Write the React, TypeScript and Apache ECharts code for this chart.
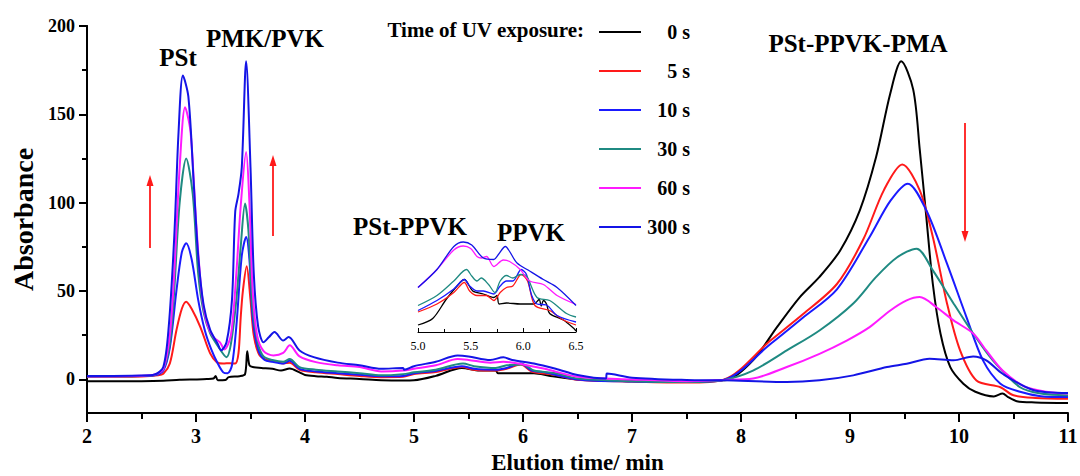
import React, { useEffect, useRef } from "react";
import * as echarts from "echarts";

const FONT = "'Liberation Serif', 'Times New Roman', serif";

const seriesNames = ["0 s", "5 s", "10 s", "30 s", "60 s", "300 s"];
const seriesColors = ["#000000", "#ff1a1a", "#1a1aff", "#1f8a82", "#ff1aff", "#1414e6"];

const yMajorTicks = [0, 50, 100, 150, 200];
const yMinorTicks = [25, 75, 125, 175];

const black0s = [[2.0,-1],[2.5,-1],[2.7,-0.8],[2.85,-0.2],[3.0,0],[3.1,0.2],[3.16,0.5],[3.18,2],[3.2,-0.5],[3.27,-0.3],[3.3,1.3],[3.4,1.8],[3.45,3],[3.47,16],[3.49,8],[3.52,7],[3.6,6.5],[3.7,6],[3.78,5],[3.86,6.2],[3.95,4],[4.0,2.5],[4.1,1.8],[4.2,1.5],[4.3,0.8],[4.5,0.3],[4.7,-0.4],[4.9,-0.6],[5.0,-0.5],[5.2,2],[5.44,6.5],[5.6,5],[5.75,5],[5.77,3.5],[6.1,3.5],[6.25,2],[6.5,0],[7.0,-1],[7.5,-1.5],[7.84,-0.5],[7.87,-0.4],[8.11,10.8],[8.33,29.6],[8.54,46.6],[8.72,58],[8.91,73],[9.09,95.7],[9.24,126],[9.37,162],[9.47,180],[9.58,164],[9.64,130],[9.7,92],[9.76,54],[9.83,26],[9.92,7],[10.04,-2.4],[10.15,-7],[10.32,-9.6],[10.4,-8],[10.45,-10],[10.53,-12.3],[10.7,-13],[11,-13.4]];

const red5s = [[2.0,1.5],[2.5,1.7],[2.65,2.3],[2.7,3.2],[2.76,9],[2.82,27.7],[2.87,40],[2.91,44],[2.96,40],[3.04,29.6],[3.13,14.7],[3.19,9.8],[3.25,9],[3.31,9.2],[3.36,9],[3.39,15],[3.41,35],[3.43,50],[3.465,64],[3.5,45],[3.53,25],[3.58,14],[3.65,11],[3.75,10],[3.8,9],[3.86,9.5],[3.95,5.5],[4.1,4],[4.3,3],[4.5,2],[4.7,1.3],[4.9,1.5],[5.0,3],[5.2,4.2],[5.44,7],[5.55,5.5],[5.75,5],[5.85,6],[5.98,8.5],[6.08,4.5],[6.3,2.5],[6.5,-0.2],[7.0,-1.2],[7.5,-1.8],[7.84,-0.2],[8.27,22],[8.57,37],[8.88,54],[9.12,79],[9.31,107],[9.48,121.6],[9.64,107],[9.76,80.6],[9.89,43],[10.01,16.4],[10.16,-0.6],[10.38,-4.4],[10.5,-9],[10.7,-10.5],[11,-11]];

const blue10s = [[2.0,1.7],[2.5,1.9],[2.62,2.3],[2.7,5],[2.76,18],[2.82,50],[2.87,72],[2.91,77],[2.96,68],[3.02,45],[3.08,28],[3.14,17],[3.2,9],[3.25,4],[3.29,3.5],[3.33,8],[3.37,30],[3.42,70],[3.46,80.6],[3.49,68],[3.52,35],[3.57,17],[3.63,11],[3.7,10],[3.8,9],[3.86,10.5],[3.95,6],[4.1,4.5],[4.3,3.5],[4.5,2.6],[4.7,1.8],[4.9,2],[5.0,3.5],[5.2,4.8],[5.44,7.5],[5.55,6],[5.75,5.5],[5.85,6.5],[5.98,9],[6.08,5],[6.2,4],[6.5,0],[7.0,-1.2],[7.5,-1.5],[7.84,-0.3],[8.27,20],[8.57,35],[8.88,51],[9.18,80.6],[9.37,101],[9.53,110.8],[9.7,95.7],[9.89,65.5],[10.07,35],[10.22,10.8],[10.38,-2.4],[10.56,-7],[10.75,-9.5],[11,-10]];

const teal30s = [[2.0,1.8],[2.5,2],[2.62,2.5],[2.7,6],[2.76,20],[2.8,50],[2.85,100],[2.91,125],[2.97,105],[3.02,60],[3.07,38],[3.13,26],[3.2,19],[3.28,12.6],[3.32,20],[3.37,45],[3.41,75],[3.45,99.5],[3.48,85],[3.52,40],[3.57,20],[3.62,13],[3.7,11],[3.8,10],[3.86,11.5],[3.95,7],[4.1,5.5],[4.3,4.5],[4.5,3.5],[4.7,2.3],[4.9,3],[5.0,4],[5.2,5.5],[5.45,9],[5.55,7.5],[5.75,6.5],[5.85,8],[6.0,8.5],[6.1,5],[6.3,3.5],[6.5,0.5],[7.0,-1],[7.5,-1.5],[7.84,-0.3],[8.11,5],[8.42,16.4],[8.72,27.7],[9.03,43],[9.24,58],[9.43,69],[9.61,74],[9.76,61.7],[9.95,43],[10.13,26],[10.31,10.8],[10.56,-4.4],[10.75,-8],[11,-9]];

const magenta60s = [[2.0,1.8],[2.5,2.1],[2.62,2.8],[2.7,6],[2.76,25],[2.8,60],[2.85,120],[2.9,154],[2.95,140],[3.0,90],[3.05,50],[3.1,32],[3.16,24],[3.22,21],[3.26,17],[3.32,25],[3.37,60],[3.41,98],[3.46,128.7],[3.49,100],[3.52,50],[3.56,25],[3.62,16],[3.71,13.6],[3.8,15],[3.86,19.3],[3.95,13],[4.1,9.8],[4.3,8],[4.5,7],[4.7,4.5],[4.9,5],[5.0,6],[5.2,8],[5.4,11.5],[5.5,11],[5.7,9.5],[5.82,10],[6.0,8.5],[6.2,6],[6.5,1.5],[7.0,0],[7.5,-1],[7.84,-0.3],[8.11,0.5],[8.42,7],[8.72,14.5],[8.97,22],[9.18,29.6],[9.37,39],[9.52,44.7],[9.64,46.6],[9.79,41],[9.95,33.4],[10.13,26],[10.25,16.4],[10.4,5],[10.6,-4],[10.8,-7],[11,-8]];

const blue300s = [[2.0,1.9],[2.5,2.2],[2.62,2.8],[2.7,7],[2.75,30],[2.8,80],[2.84,140],[2.88,172],[2.93,160],[2.98,110],[3.02,70],[3.07,42],[3.13,28],[3.2,20],[3.23,16.5],[3.28,21],[3.33,45],[3.36,95],[3.39,105],[3.42,120],[3.46,180],[3.5,120],[3.53,60],[3.57,30],[3.62,21],[3.67,24],[3.72,26.8],[3.8,22],[3.85,24],[3.95,16.4],[4.08,12.6],[4.3,9.5],[4.5,8],[4.7,6],[4.9,6.5],[4.91,5.5],[5.0,7.5],[5.2,10],[5.4,13.5],[5.5,13],[5.7,11],[5.82,12.5],[5.9,11],[6.1,9],[6.3,6],[6.5,2.5],[6.76,0.5],[6.77,3.3],[7.0,1],[7.5,-0.3],[7.84,-0.5],[8.42,-1.5],[8.72,-0.5],[9.03,2.3],[9.34,7],[9.52,8.9],[9.73,11.7],[9.95,10.8],[10.13,13],[10.25,10.8],[10.4,3.2],[10.68,-6],[11,-7.7]];

// inset (5.0 - 6.5 min, magnified)
const insetBlack = [[5.0,1.4],[5.14,2.7],[5.27,6.6],[5.4,9.9],[5.44,10.5],[5.52,8.2],[5.62,7.6],[5.72,6.9],[5.75,7.3],[5.77,5.6],[5.84,5.8],[5.97,5.6],[6.1,5.6],[6.15,6.5],[6.17,5.2],[6.19,6.3],[6.22,5.6],[6.25,3.7],[6.38,2.4],[6.48,0.7],[6.5,0.2]];
const insetRed = [[5.0,4.0],[5.18,5.6],[5.34,7.9],[5.44,9.9],[5.49,8.2],[5.56,7.3],[5.65,7.3],[5.72,6.3],[5.78,7.9],[5.84,8.9],[5.9,9.2],[5.98,11.5],[6.04,10.2],[6.11,5.3],[6.25,4.3],[6.38,2.4],[6.5,1.4]];
const insetBlue10 = [[5.0,4.3],[5.18,6.3],[5.34,8.6],[5.44,10.5],[5.49,9.2],[5.56,8.2],[5.62,8.2],[5.72,7.6],[5.78,9.2],[5.84,10.2],[5.9,10.2],[5.98,12.5],[6.03,11.5],[6.08,7.3],[6.13,5.6],[6.22,5.4],[6.32,3.3],[6.5,2.0]];
const insetTeal = [[5.0,5.3],[5.18,7.3],[5.34,10.2],[5.46,12.5],[5.51,11.2],[5.56,10.2],[5.6,10.8],[5.67,9.5],[5.73,7.9],[5.78,10.2],[5.84,11.3],[5.9,10.8],[5.97,11.5],[6.03,11.2],[6.13,6.9],[6.25,6.3],[6.41,3.7],[6.5,3.0]];
const insetMagenta = [[5.0,8.9],[5.18,12.5],[5.34,16.4],[5.43,17.2],[5.5,16.7],[5.56,15.1],[5.6,14.8],[5.65,15.1],[5.72,13.1],[5.81,14.4],[5.87,14.1],[5.97,12.5],[6.06,10.2],[6.19,9.5],[6.32,7.3],[6.5,5.5]];
const insetBlue300 = [[5.0,8.9],[5.18,12.5],[5.34,17.1],[5.43,18.0],[5.51,17.4],[5.62,14.8],[5.72,14.5],[5.76,15.4],[5.83,17.1],[5.87,16.1],[5.94,13.8],[6.06,12.2],[6.19,10.5],[6.32,8.9],[6.5,5.3]];

const mainData = [black0s, red5s, blue10s, teal30s, magenta60s, blue300s];
const insetData = [insetBlack, insetRed, insetBlue10, insetTeal, insetMagenta, insetBlue300];

const peakLabels = [
  { text: "PSt", x: 178, y: 57 },
  { text: "PMK/PVK", x: 265, y: 38 },
  { text: "PSt-PPVK", x: 410, y: 226 },
  { text: "PPVK", x: 531, y: 232 },
  { text: "PSt-PPVK-PMA", x: 858, y: 43 },
];

function arrow(x: number, y1: number, y2: number) {
  const dir = y2 < y1 ? -1 : 1;
  return {
    type: "group",
    children: [
      { type: "line", shape: { x1: x, y1, x2: x, y2: y2 - dir * 8 }, style: { stroke: "#ff1a1a", lineWidth: 1.8 } },
      { type: "polygon", shape: { points: [[x, y2], [x - 3.5, y2 - dir * 11], [x + 3.5, y2 - dir * 11]] }, style: { fill: "#ff1a1a" } },
    ],
  };
}

export default function App() {
  const ref = useRef<HTMLDivElement>(null);
  useEffect(() => {
    document.body.style.margin = "0";
    const chart = echarts.init(ref.current!, null, { renderer: "svg" });
    const mainSeries = mainData.map((d, i) => ({
      name: seriesNames[i],
      type: "line",
      xAxisIndex: 0,
      yAxisIndex: 0,
      data: d,
      symbol: "none",
      smooth: 0.3,
      lineStyle: { color: seriesColors[i], width: 2 },
      itemStyle: { color: seriesColors[i] },
      z: 3,
    }));
    const insetSeries = insetData.map((d, i) => ({
      name: seriesNames[i] + " inset",
      type: "line",
      xAxisIndex: 1,
      yAxisIndex: 2,
      data: d,
      symbol: "none",
      smooth: 0.3,
      lineStyle: { color: seriesColors[i], width: 1.3 },
      itemStyle: { color: seriesColors[i] },
    }));
    chart.setOption({
      animation: false,
      backgroundColor: "#ffffff",
      textStyle: { fontFamily: FONT },
      grid: [
        { left: 87, right: 12, top: 26, bottom: 63, outerBoundsMode: "none", containLabel: false },
        { left: 418, width: 158, top: 232, bottom: 144, outerBoundsMode: "none", containLabel: false },
      ],
      xAxis: [
        {
          type: "value", gridIndex: 0, min: 2, max: 11, interval: 1,
          axisLine: { onZero: false, lineStyle: { color: "#000", width: 2 } },
          axisTick: { length: 9, lineStyle: { width: 2, color: "#000" } },
          minorTick: { show: true, splitNumber: 2, length: 6, lineStyle: { width: 2, color: "#000" } },
          splitLine: { show: false },
          axisLabel: { color: "#000", fontSize: 20, fontWeight: "bold", fontFamily: FONT, margin: 13 },
          name: "Elution time/ min", nameLocation: "middle", nameGap: 36,
          nameTextStyle: { color: "#000", fontSize: 23, fontWeight: "bold", fontFamily: FONT },
        },
        {
          type: "value", gridIndex: 1, min: 5, max: 6.5, interval: 0.5,
          axisLine: { onZero: false, lineStyle: { color: "#000", width: 1 } },
          axisTick: { inside: true, length: 4, lineStyle: { width: 1, color: "#000" } },
          minorTick: { show: true, splitNumber: 2, length: 3, lineStyle: { width: 1, color: "#000" } },
          splitLine: { show: false },
          axisLabel: { color: "#000", fontSize: 12, fontFamily: FONT, margin: 8, formatter: (v: number) => v.toFixed(1) },
        },
      ],
      yAxis: [
        {
          type: "value", gridIndex: 0, position: "left", min: -19, max: 200,
          axisLine: { show: true, lineStyle: { color: "#000", width: 2 } },
          axisTick: { show: true, customValues: yMajorTicks, length: 8, lineStyle: { width: 2, color: "#000" } },
          axisLabel: { customValues: yMajorTicks, color: "#000", fontSize: 18, fontWeight: "bold", fontFamily: FONT, margin: 12 },
          splitLine: { show: false },
          name: "Absorbance", nameLocation: "middle", nameGap: 41,
          nameTextStyle: { color: "#000", fontSize: 28, fontWeight: "bold", fontFamily: FONT },
        },
        {
          type: "value", gridIndex: 0, position: "left", offset: 0, min: -19, max: 200,
          axisLine: { show: true, lineStyle: { color: "#000", width: 2 } },
          axisTick: { show: true, customValues: yMinorTicks, length: 5, lineStyle: { width: 2, color: "#000" } },
          axisLabel: { show: false },
          splitLine: { show: false },
        },
        { type: "value", gridIndex: 1, min: 0, max: 20, show: false, splitLine: { show: false } },
      ],
      legend: {
        data: seriesNames,
        orient: "vertical",
        left: 594,
        top: 17,
        icon: "rect",
        itemWidth: 42,
        itemHeight: 2,
        itemGap: 19,
        selectedMode: false,
        formatter: "{r|{name}}",
        textStyle: {
          color: "#000", fontSize: 20, fontWeight: "bold", fontFamily: FONT, lineHeight: 20,
          rich: { r: { width: 44, align: "right", color: "#000", fontSize: 20, fontWeight: "bold", fontFamily: FONT, lineHeight: 20 } },
        },
      },
      graphic: [
        {
          type: "text", x: 584, y: 30,
          style: { text: "Time of UV exposure:", fill: "#000", font: `bold 21px ${FONT}`, textAlign: "right", textVerticalAlign: "middle" },
        },
        ...peakLabels.map((p) => ({
          type: "text", x: p.x, y: p.y,
          style: { text: p.text, fill: "#000", font: `bold 25px ${FONT}`, textAlign: "center", textVerticalAlign: "middle" },
        })),
        arrow(150, 248, 175),
        arrow(273, 236, 155),
        arrow(965, 123, 242),
      ],
      series: [...mainSeries, ...insetSeries],
    });
    return () => chart.dispose();
  }, []);
  return <div ref={ref} style={{ position: "fixed", left: 0, top: 0, width: 1080, height: 476 }} />;
}
